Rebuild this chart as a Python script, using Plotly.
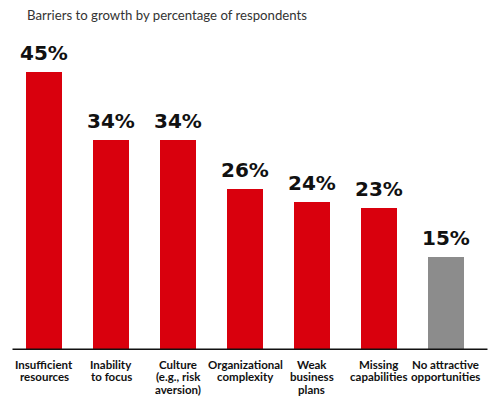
import plotly.graph_objects as go

categories = ["Insufficient<br>resources", "Inability<br>to focus", "Culture<br>(e.g., risk<br>aversion)",
              "Organizational<br>complexity", "Weak<br>business<br>plans", "Missing<br>capabilities",
              "No attractive<br>opportunities"]
values = [45, 34, 34, 26, 24, 23, 15]
colors = ["#d9000d"] * 6 + ["#8c8c8c"]
title = "Barriers to growth by percentage of respondents"

fig = go.Figure(go.Bar(
    x=list(range(len(values))), y=values,
    marker=dict(color=colors, line=dict(width=0)),
    width=36/67,
    cliponaxis=False,
))

annotations = []
for i, v in enumerate(values):
    annotations.append(dict(
        x=i, y=v, xref="x", yref="y", text=f"{v}%", showarrow=False,
        xanchor="center", yanchor="bottom", yshift=5,
        font=dict(family="DejaVu Sans", size=20, color="#111111", weight="bold"),
    ))
for i, cat in enumerate(categories):
    for k, line in enumerate(cat.split("<br>")):
        annotations.append(dict(
            x=i, y=0, xref="x", yref="y", text=line, showarrow=False,
            xanchor="center", yanchor="middle", yshift=-(14 + 12.5 * k),
            font=dict(family="Lato", size=11.5, color="#111111", weight="bold"),
        ))
annotations.append(dict(
    x=0, y=1, xref="paper", yref="paper", text=title, showarrow=False,
    xanchor="left", yanchor="middle", xshift=14, yshift=26,
    font=dict(family="Lato", size=13.2, color="#333333"),
))

fig.update_layout(
    width=500, height=396,
    margin=dict(l=2.5, r=28.5, t=33, b=54),
    paper_bgcolor="white", plot_bgcolor="white",
    showlegend=False, bargap=0,
    xaxis=dict(range=[-0.5, 6.5], showgrid=False, zeroline=False, showline=False,
               showticklabels=False, ticks=""),
    yaxis=dict(range=[0, 50], visible=False, fixedrange=True),
    annotations=annotations,
    shapes=[dict(type="line", xref="paper", yref="y", x0=(4-2.5)/469, x1=(480-2.5)/469,
                 y0=0, y1=0, line=dict(color="#111111", width=3))],
)
fig.write_html("out.html")
